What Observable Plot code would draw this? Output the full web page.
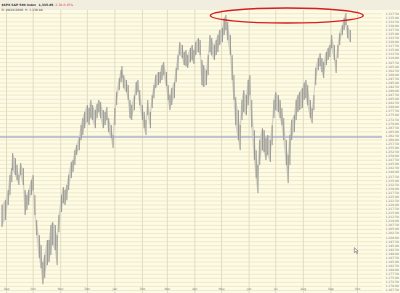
<!DOCTYPE html>
<html>
<head>
<meta charset="utf-8">
<script src="https://cdn.jsdelivr.net/npm/d3@7"></script>
<script src="https://cdn.jsdelivr.net/npm/@observablehq/plot@0.6"></script>
<style>
html,body{margin:0;padding:0;background:#fdfbe6;overflow:hidden;}
</style>
</head>
<body>
<div id="chart"></div>
<script>
// ---- data ----
const dates = ["2005-08-27","2005-08-31","2005-09-03","2005-09-05","2005-09-07","2005-09-08","2005-09-11","2005-09-13","2005-09-15","2005-09-17","2005-09-20","2005-09-22","2005-09-24","2005-09-26","2005-09-29","2005-10-01","2005-10-03","2005-10-05","2005-10-08","2005-10-10","2005-10-12","2005-10-14","2005-10-17","2005-10-19","2005-10-21","2005-10-23","2005-10-26","2005-10-28","2005-10-30","2005-11-02","2005-11-04","2005-11-06","2005-11-08","2005-11-10","2005-11-13","2005-11-15","2005-11-17","2005-11-19","2005-11-22","2005-11-24","2005-11-26","2005-11-28","2005-12-01","2005-12-03","2005-12-05","2005-12-07","2005-12-10","2005-12-12","2005-12-14","2005-12-16","2005-12-19","2005-12-21","2005-12-23","2005-12-25","2005-12-28","2005-12-30","2006-01-01","2006-01-03","2006-01-06","2006-01-08","2006-01-09","2006-01-11","2006-01-14","2006-01-16","2006-01-18","2006-01-20","2006-01-23","2006-01-25","2006-01-27","2006-01-29","2006-02-01","2006-02-03","2006-02-05","2006-02-07","2006-02-10","2006-02-12","2006-02-14","2006-02-16","2006-02-19","2006-02-21","2006-02-23","2006-02-25","2006-02-28","2006-03-02","2006-03-04","2006-03-06","2006-03-09","2006-03-11","2006-03-13","2006-03-15","2006-03-18","2006-03-20","2006-03-22","2006-03-24","2006-03-27","2006-03-29","2006-03-31","2006-04-02","2006-04-05","2006-04-07","2006-04-09","2006-04-11","2006-04-14","2006-04-16","2006-04-18","2006-04-20","2006-04-23","2006-04-25","2006-04-27","2006-04-29","2006-05-02","2006-05-04","2006-05-06","2006-05-08","2006-05-11","2006-05-13","2006-05-15","2006-05-17","2006-05-20","2006-05-22","2006-05-24","2006-05-26","2006-05-29","2006-05-31","2006-06-02","2006-06-04","2006-06-07","2006-06-09","2006-06-11","2006-06-13","2006-06-16","2006-06-18","2006-06-20","2006-06-22","2006-06-25","2006-06-27","2006-06-29","2006-07-01","2006-07-04","2006-07-06","2006-07-08","2006-07-10","2006-07-13","2006-07-15","2006-07-17","2006-07-19","2006-07-22","2006-07-24","2006-07-26","2006-07-28","2006-07-31","2006-08-02","2006-08-04","2006-08-06","2006-08-09","2006-08-11","2006-08-13","2006-08-15","2006-08-18","2006-08-20","2006-08-22","2006-08-24","2006-08-27","2006-08-29","2006-08-31","2006-09-02","2006-09-05","2006-09-07","2006-09-09","2006-09-11","2006-09-14","2006-09-16","2006-09-18","2006-09-20","2006-09-23"];
const highs = [1219.7,1222.7,1228.9,1238.1,1242.4,1251.6,1248.5,1244.3,1238.1,1245.5,1242.4,1228.9,1225.8,1228.9,1235.0,1238.1,1225.8,1210.5,1201.2,1195.1,1184.7,1189.0,1198.2,1198.2,1207.4,1209.2,1207.4,1201.2,1213.5,1225.8,1230.7,1228.9,1232.0,1238.1,1246.1,1247.3,1253.4,1256.5,1261.4,1268.8,1273.1,1276.8,1281.1,1279.2,1284.2,1281.1,1278.0,1281.7,1284.2,1283.0,1278.0,1276.8,1279.9,1273.1,1268.8,1262.7,1279.2,1289.1,1297.7,1302.6,1305.1,1299.5,1296.5,1293.4,1284.2,1281.1,1287.2,1295.2,1296.5,1290.3,1281.1,1276.8,1271.9,1284.2,1276.8,1287.2,1293.4,1299.5,1301.4,1301.4,1305.7,1307.5,1301.4,1293.4,1287.2,1291.5,1295.2,1303.9,1311.8,1319.8,1318.0,1313.7,1314.9,1311.8,1316.1,1318.0,1314.9,1319.8,1322.3,1321.0,1308.8,1305.7,1302.6,1311.8,1324.1,1322.3,1318.0,1321.0,1324.1,1327.2,1328.4,1334.5,1336.4,1332.1,1324.1,1311.8,1299.5,1286.0,1278.0,1268.8,1284.2,1290.3,1287.2,1296.5,1299.5,1284.2,1265.7,1253.4,1244.3,1259.6,1266.9,1265.7,1260.8,1262.7,1259.6,1268.8,1284.2,1289.1,1287.2,1284.2,1279.2,1273.1,1259.6,1250.4,1262.7,1271.9,1275.0,1284.2,1287.2,1289.1,1291.5,1294.6,1296.5,1293.4,1284.2,1279.2,1287.2,1303.9,1310.0,1313.0,1310.0,1307.5,1313.7,1316.1,1318.0,1324.1,1318.0,1308.8,1318.0,1325.3,1330.2,1334.5,1337.6,1330.2,1327.2];
const lows = [1206.2,1210.5,1219.7,1225.8,1233.8,1241.2,1238.1,1235.0,1232.0,1238.1,1232.0,1213.5,1216.6,1219.7,1225.8,1228.9,1213.5,1201.2,1187.1,1180.9,1171.0,1174.8,1182.8,1184.7,1189.0,1195.1,1192.0,1182.8,1203.1,1215.4,1220.9,1219.7,1222.7,1228.9,1236.3,1240.0,1244.3,1250.4,1253.4,1259.6,1262.7,1266.9,1270.7,1268.8,1273.1,1271.9,1266.9,1273.1,1276.8,1273.1,1266.9,1268.8,1271.9,1264.5,1260.8,1254.7,1268.8,1281.1,1290.3,1295.2,1297.7,1291.5,1289.1,1284.2,1273.1,1271.9,1278.0,1287.2,1289.1,1281.1,1271.9,1266.9,1262.7,1275.0,1266.9,1279.2,1285.4,1291.5,1293.4,1294.6,1296.5,1299.5,1292.8,1284.2,1278.0,1281.1,1285.4,1295.2,1302.6,1311.8,1310.0,1305.7,1305.1,1303.9,1307.5,1308.8,1306.3,1311.8,1313.7,1311.8,1293.4,1292.2,1293.4,1299.5,1313.7,1311.8,1308.8,1311.8,1313.7,1318.0,1319.8,1324.1,1327.2,1321.0,1311.8,1296.5,1284.2,1268.8,1259.6,1253.4,1271.9,1276.8,1275.0,1281.1,1287.2,1267.6,1247.3,1236.3,1227.0,1244.3,1253.4,1252.2,1247.3,1250.4,1246.1,1256.5,1273.1,1278.0,1276.8,1273.1,1268.8,1259.6,1244.3,1233.2,1244.3,1259.6,1264.5,1271.9,1276.8,1278.0,1279.2,1284.2,1285.4,1281.1,1273.1,1270.0,1278.0,1293.4,1302.6,1305.1,1301.4,1297.7,1305.7,1308.8,1310.6,1316.1,1308.8,1300.8,1310.0,1318.0,1324.1,1327.2,1330.2,1322.3,1319.8];

const monthStarts = ["2005-09-01","2005-10-01","2005-11-01","2005-12-01","2006-01-01","2006-02-01","2006-03-01","2006-04-01","2006-05-01","2006-06-01","2006-07-01","2006-08-01","2006-09-01","2006-10-01"];
const monthLabels = ["Sep","Oct","Nov","Dec","Jan","Feb","Mar","Apr","May","Jun","Jul","Aug","Sep","Oct"];
const priceTicks = d3.range(1167.5, 1338, 2.5);
const levelLine = [1261.8];
const xDomain = ["2005-08-25T06:00:00Z","2006-10-29T03:00:00Z"];
const yDomain = [1165.66, 1339.5];
const titleMain = "$SPX S&P 500 Index";
const titleLast = "1,335.85";
const titleChg = "-3.30";
const titlePct = "-0.25%";
const titleLine2 = "D: 09/28/2006  H: 1,339.88";
// annotation ellipse in data terms
const ellipseDates = ["2006-04-19","2006-10-08"];
const ellipsePrices = [1331.5, 1340.7];
// mouse-pointer position in data terms
const cursorAt = {date: "2006-09-28", price: 1193.5};

const bars = dates.map((d, i) => ({date: new Date(d), high: highs[i], low: lows[i]}));
const months = monthStarts.map((d, i) => ({date: new Date(d), label: monthLabels[i]}));
const fmt = d3.format(",.2f");

const plot = Plot.plot({
  width: 400,
  height: 293,
  marginTop: 10,
  marginBottom: 0,
  marginLeft: 0,
  marginRight: 18,
  style: {background: "#fdfbe6", fontFamily: "DejaVu Sans, sans-serif", overflow: "visible"},
  x: {type: "utc", domain: xDomain.map(d => new Date(d)), axis: null},
  y: {domain: yDomain, axis: null},
  marks: [
    Plot.ruleY(priceTicks, {stroke: "#efe9c6", strokeWidth: 1}),
    Plot.ruleX(months, {x: "date", stroke: "#e2ddc0", strokeWidth: 1}),
    Plot.ruleY(levelLine, {stroke: "#aab2cc", strokeWidth: 1.5}),
    Plot.areaY(bars, {x: "date", y1: "low", y2: "high", fill: "#c9c8bf", fillOpacity: 0.75}),
    Plot.ruleX(bars, {x: "date", y1: "low", y2: "high", stroke: "#8e8e8a", strokeWidth: 0.9}),
    Plot.text(priceTicks, {y: d => d, frameAnchor: "right", dx: 3, textAnchor: "start", text: d => fmt(d), fontSize: 3, fill: "#7a7a7a"}),
    Plot.text(months, {x: "date", frameAnchor: "bottom", dy: -3.5, text: "label", fontSize: 3, fill: "#7a7a7a"}),
    Plot.text([titleMain], {frameAnchor: "top-left", dx: 1, dy: -6.5, textAnchor: "start", fontSize: 3, fontWeight: "bold", fill: "#333"}),
    Plot.text([titleLast], {frameAnchor: "top-left", dx: 38, dy: -6.5, textAnchor: "start", fontSize: 3, fontWeight: "bold", fill: "#333"}),
    Plot.text([titleChg], {frameAnchor: "top-left", dx: 54, dy: -6.5, textAnchor: "start", fontSize: 3, fill: "#e03030"}),
    Plot.text([titlePct], {frameAnchor: "top-left", dx: 62, dy: -6.5, textAnchor: "start", fontSize: 3, fill: "#e03030"}),
    Plot.text([titleLine2], {frameAnchor: "top-left", dx: 1, dy: -2, textAnchor: "start", fontSize: 3, fill: "#444"})
  ]
});

const svg = d3.select(plot);
// header band
svg.insert("rect", ":first-child").attr("x", 0).attr("y", 0).attr("width", 400).attr("height", 10).attr("fill", "#f1eee0");
// annotation ellipse, placed through the plot's scales
const sx = plot.scale("x"), sy = plot.scale("y");
const ex1 = sx.apply(new Date(ellipseDates[0])), ex2 = sx.apply(new Date(ellipseDates[1]));
const ey1 = sy.apply(ellipsePrices[1]), ey2 = sy.apply(ellipsePrices[0]);
svg.append("ellipse")
  .attr("cx", (ex1 + ex2) / 2).attr("cy", (ey1 + ey2) / 2)
  .attr("rx", (ex2 - ex1) / 2).attr("ry", (ey2 - ey1) / 2)
  .attr("fill", "none").attr("stroke", "#d81e1e").attr("stroke-width", 1.4);
// small mouse pointer glyph
const cx = sx.apply(new Date(cursorAt.date)), cy = sy.apply(cursorAt.price);
svg.append("path")
  .attr("transform", `translate(${cx},${cy}) scale(0.55)`)
  .attr("d", "M0,0 L0,9 L2.5,7 L4.5,11 L6,10.2 L4,6.5 L7,6.3 Z")
  .attr("fill", "#f4f4f0").attr("stroke", "#777").attr("stroke-width", 1.2);

document.getElementById("chart").appendChild(plot);
</script>
</body>
</html>
